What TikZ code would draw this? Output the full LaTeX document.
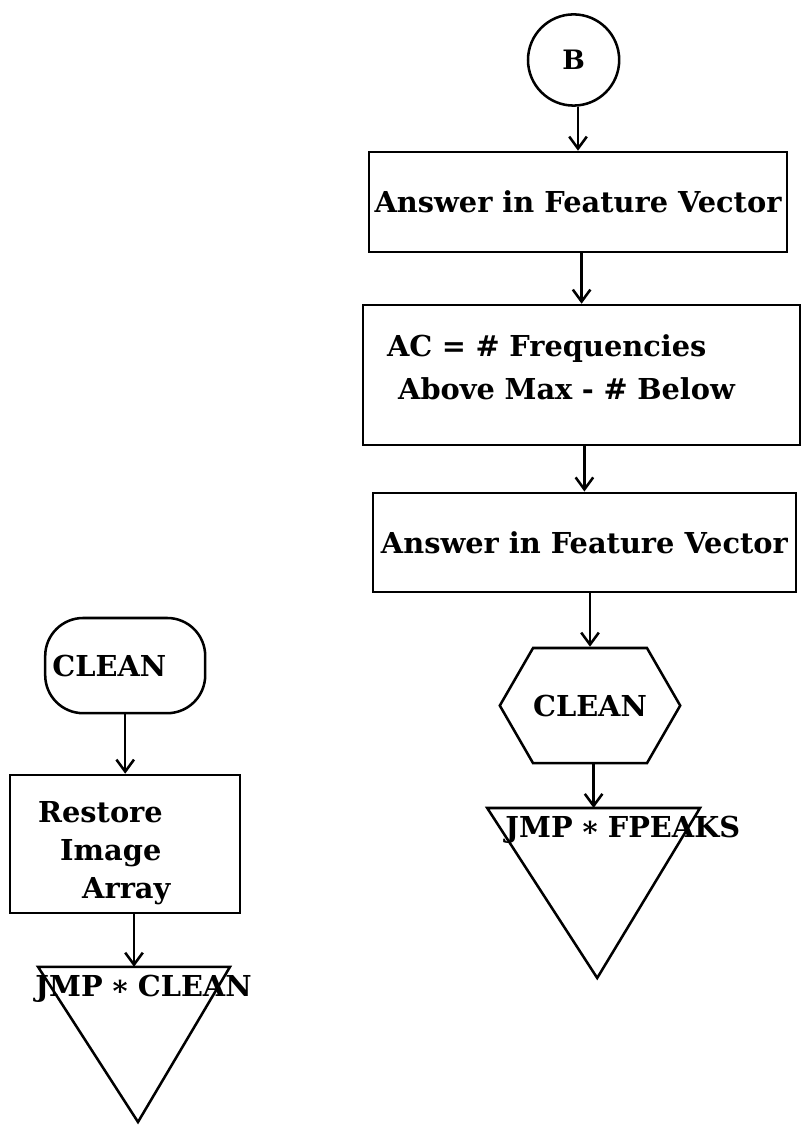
\documentclass[tikz,border=0pt]{standalone}
\usepackage{fontspec}
\setmainfont{DejaVu Serif}
\usetikzlibrary{arrows.meta,positioning,shapes.symbols}
\newcommand{\chartfont}{\bfseries\fontsize{20.5}{24}\selectfont}
\newcommand{\jmpstar}{\raisebox{-0.3ex}{*}}
\tikzset{
  block/.style={draw, line width=1.8pt, align=center, inner sep=4pt, font=\chartfont},
  arrow/.style={-{Straight Barb[length=3mm,width=4.4mm]}, line width=1.8pt},
  outline/.style={draw, line width=1.8pt, line join=miter},
  jmptext/.style={font=\chartfont, inner sep=0pt, anchor=base west}
}

\begin{document}
\begin{tikzpicture}
  \useasboundingbox (0,0) rectangle (20.05,28.5);

  % right column
  \node[block, circle, minimum size=2.28cm, font=\bfseries\fontsize{19}{22}\selectfont]
    (B) at (14.34,27.0) {B};
  \node[block, minimum width=10.45cm, minimum height=2.5cm] (ans1) at (14.45,23.45)
    {Answer in Feature Vector};
  \node[block, minimum height=3.5cm, text width=9.73cm, inner xsep=0.6cm, align=left,
        font=\bfseries\fontsize{20.5}{30.5}\selectfont] (ac) at (14.54,19.125)
    {AC = \# Frequencies\\\hspace{0.28cm}Above Max - \# Below\\[-0.67cm]\mbox{}};
  \node[block, minimum width=10.58cm, minimum height=2.48cm] (ans2) at (14.61,14.94)
    {Answer in Feature Vector};
  \node[block, signal, signal to=west and east, signal pointer angle=120, inner xsep=0pt,
        minimum width=4.5cm, minimum height=2.88cm] (hex) at (14.75,10.86) {CLEAN};
  \draw[outline] (12.18,8.3) -- (17.5,8.3) -- (14.93,4.05) -- cycle;
  \coordinate (tri1) at (14.84,8.3);
  \node[jmptext] (jmp1) at (12.63,7.55) {JMP \jmpstar{} FPEAKS};

  \draw[arrow] (ans1.north |- B.south) -- (ans1.north);
  \draw[arrow] (ac.north |- ans1.south) -- (ac.north);
  \draw[arrow] (ans2.north |- ac.south) -- (ans2.north);
  \draw[arrow] (hex.north |- ans2.south) -- (hex.north);
  \draw[arrow] (tri1 |- hex.south) -- (tri1);

  % left column
  \node[block, rounded corners=0.95cm, minimum height=2.38cm, text width=3.64cm,
        inner xsep=0.18cm, align=left] (clean) at (3.13,11.86) {CLEAN};
  \node[block, minimum height=3.45cm, text width=4.35cm, inner xsep=0.7cm, align=left,
        font=\bfseries\fontsize{20.5}{27}\selectfont] (restore) at (3.13,7.4)
    {\\[0.05cm]Restore\\\hspace{0.55cm}Image\\\hspace{1.1cm}Array};
  \draw[outline] (0.95,4.33) -- (5.75,4.33) -- (3.45,0.45) -- cycle;
  \coordinate (tri2) at (3.35,4.33);
  \node[jmptext] (jmp2) at (0.88,3.58) {JMP \jmpstar{} CLEAN};

  \draw[arrow] (restore.north |- clean.south) -- (restore.north);
  \draw[arrow] (tri2 |- restore.south) -- (tri2);
\end{tikzpicture}
\end{document}
